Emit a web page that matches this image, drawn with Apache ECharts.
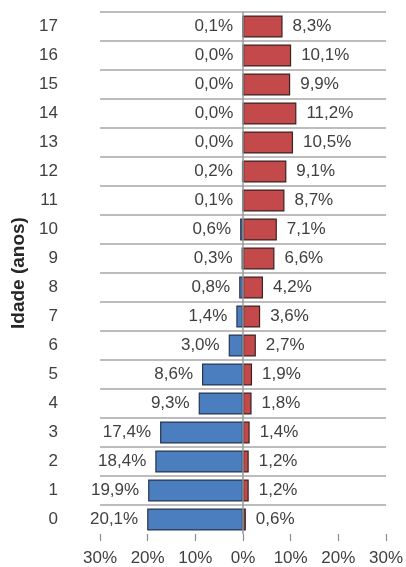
<!DOCTYPE html>
<html>
<head>
<meta charset="utf-8">
<script src="https://cdn.jsdelivr.net/npm/echarts@6/dist/echarts.min.js"></script>
<style>html,body{margin:0;padding:0;background:#fff}#c{width:406px;height:567px}</style>
</head>
<body>
<div id="c"></div>
<script>
const ages = ['0','1','2','3','4','5','6','7','8','9','10','11','12','13','14','15','16','17'];
const blueValues = [20.1,19.9,18.4,17.4,9.3,8.6,3.0,1.4,0.8,0.3,0.6,0.1,0.2,0.0,0.0,0.0,0.0,0.1];
const redValues = [0.6,1.2,1.2,1.4,1.8,1.9,2.7,3.6,4.2,6.6,7.1,8.7,9.1,10.5,11.2,9.9,10.1,8.3];
const xTicks = [-30,-20,-10,0,10,20,30];

const FONT = 'Liberation Sans';
const TXT = '#404040';
const FS = 17;
const fmt = v => Math.abs(v).toFixed(1).replace('.', ',') + '%';

const chart = echarts.init(document.getElementById('c'));
chart.setOption({
  animation: false,
  textStyle: {fontFamily: FONT},
  grid: {left: 100, right: 20, top: 12, bottom: 32, containLabel: false},
  xAxis: {
    type: 'value', min: xTicks[0], max: xTicks[xTicks.length-1], interval: 10,
    axisLine: {show: false},
    axisTick: {show: true, length: 7, lineStyle: {color: '#8c8c8c', width: 1.2}},
    splitLine: {show: false},
    axisLabel: {fontSize: FS, color: TXT, fontFamily: FONT, margin: 16,
      formatter: v => Math.abs(v) + '%'}
  },
  yAxis: {
    type: 'category', data: ages,
    name: 'Idade (anos)', nameLocation: 'middle', nameRotate: 90, nameGap: 71,
    nameTextStyle: {fontSize: 19, fontWeight: 'bold', color: '#262626', fontFamily: FONT},
    axisLine: {show: false}, axisTick: {show: false},
    axisLabel: {fontSize: FS, color: TXT, fontFamily: FONT, margin: 42},
    splitLine: {show: true, showMinLine: false, lineStyle: {color: '#a6a6a6', width: 1.5}}
  },
  series: [
    {
      type: 'bar', name: 'blue', data: blueValues.map(v => -v),
      barWidth: '76%', barGap: '-100%',
      itemStyle: {color: '#4a7ebf', borderColor: '#2a3550', borderWidth: 1.2},
      label: {show: true, position: 'left', distance: 9, fontSize: FS, color: TXT, fontFamily: FONT,
        formatter: p => fmt(p.value)}
    },
    {
      type: 'bar', name: 'red', data: redValues,
      barWidth: '76%',
      itemStyle: {color: '#c4494a', borderColor: '#3a2222', borderWidth: 1.2},
      label: {show: true, position: 'right', distance: 10, fontSize: FS, color: TXT, fontFamily: FONT,
        formatter: p => fmt(p.value)},
      markLine: {
        silent: true, symbol: ['none','none'], z: 10,
        label: {show: false},
        lineStyle: {color: '#9a9a9a', width: 1.5, type: 'solid'},
        data: [{xAxis: 0}]
      }
    }
  ]
});
</script>
</body>
</html>
